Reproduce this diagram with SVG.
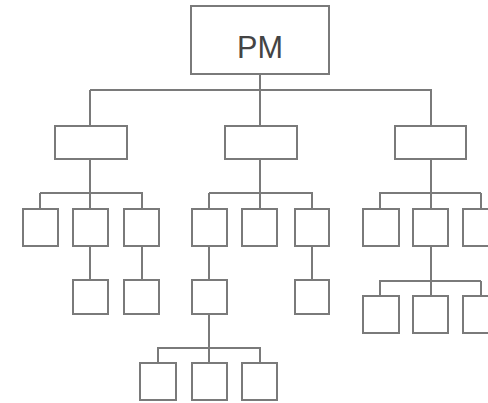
<svg xmlns="http://www.w3.org/2000/svg" width="488" height="403" viewBox="0 0 488 403">
<style>
.n{fill:#fff;stroke:#7a7a7a;stroke-width:2}
.c{fill:none;stroke:#7a7a7a;stroke-width:2}
.t{font-family:"Liberation Sans",Arial,sans-serif;font-size:32px;fill:#444;text-anchor:middle}
</style>
<rect width="488" height="403" fill="#fff"/>
<g id="connectors">
<path class="c" d="M260 74V90M90 90H432M90 90V126M260 90V126M431 90V126"/>
<path class="c" d="M90 159V193M40 193H143M40 193V209M90 193V209M142 193V209"/>
<path class="c" d="M260 159V193M209 193H313M209 193V209M260 193V209M312 193V209"/>
<path class="c" d="M431 159V193M379 193H481M380 193V209M431 193V209M481 193V209"/>
<path class="c" d="M90 246V280M142 246V280M209 246V280M312 246V280"/>
<path class="c" d="M431 246V296M379 281H481M380 281V296M481 281V296"/>
<path class="c" d="M209 314V363M157 348H261M158 348V363M209 348V363M260 348V363"/>
</g>
<g id="pm"><rect class="n" x="191" y="6" width="138" height="68"/><text class="t" x="260" y="58" textLength="46" lengthAdjust="spacingAndGlyphs">PM</text></g>
<g id="l2a"><rect class="n" x="55" y="126" width="72" height="33"/></g>
<g id="l2b"><rect class="n" x="225" y="126" width="72" height="33"/></g>
<g id="l2c"><rect class="n" x="395" y="126" width="71" height="33"/></g>
<g id="l3a"><rect class="n" x="23" y="209" width="35" height="37"/></g>
<g id="l3b"><rect class="n" x="73" y="209" width="35" height="37"/></g>
<g id="l3c"><rect class="n" x="124" y="209" width="35" height="37"/></g>
<g id="l3d"><rect class="n" x="192" y="209" width="35" height="37"/></g>
<g id="l3e"><rect class="n" x="242" y="209" width="35" height="37"/></g>
<g id="l3f"><rect class="n" x="295" y="209" width="34" height="37"/></g>
<g id="l3g"><rect class="n" x="363" y="209" width="36" height="37"/></g>
<g id="l3h"><rect class="n" x="413" y="209" width="35" height="37"/></g>
<g id="l3i"><rect class="n" x="463" y="209" width="36" height="37"/></g>
<g id="l4a"><rect class="n" x="73" y="280" width="35" height="34"/></g>
<g id="l4b"><rect class="n" x="124" y="280" width="35" height="34"/></g>
<g id="l4c"><rect class="n" x="192" y="280" width="35" height="34"/></g>
<g id="l4d"><rect class="n" x="295" y="280" width="34" height="34"/></g>
<g id="l4e"><rect class="n" x="363" y="296" width="36" height="37"/></g>
<g id="l4f"><rect class="n" x="413" y="296" width="35" height="37"/></g>
<g id="l4g"><rect class="n" x="463" y="296" width="36" height="37"/></g>
<g id="l5a"><rect class="n" x="140" y="363" width="36" height="37"/></g>
<g id="l5b"><rect class="n" x="192" y="363" width="35" height="37"/></g>
<g id="l5c"><rect class="n" x="242" y="363" width="35" height="37"/></g>
</svg>
